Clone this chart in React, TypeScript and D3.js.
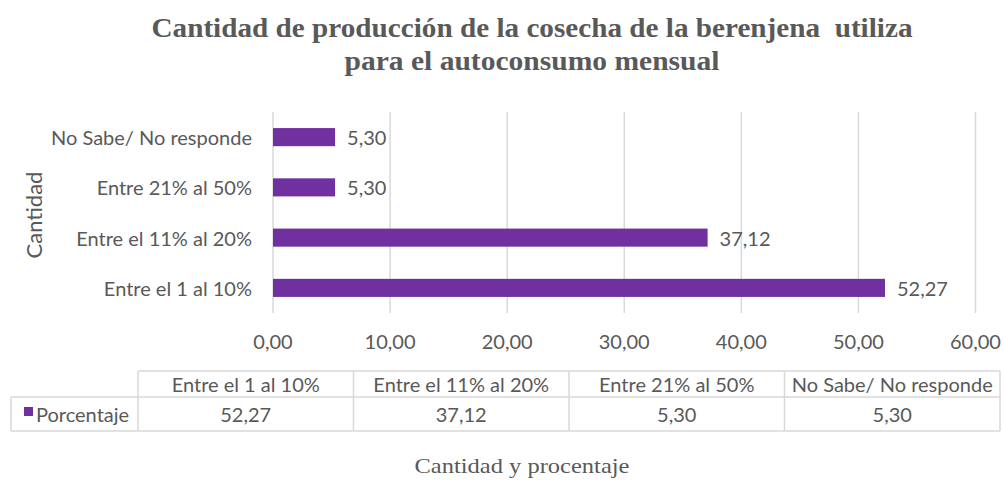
import React from "react";
import * as d3 from "d3";

const categories = ["Entre el 1 al 10%", "Entre el 11% al 20%", "Entre 21% al 50%", "No Sabe/ No responde"];
const values = [52.27, 37.12, 5.30, 5.30];
const xTicks = [0, 10, 20, 30, 40, 50, 60];
const seriesName = "Porcentaje";
const titleLines = ["Cantidad de producción de la cosecha de la berenjena  utiliza", "para el autoconsumo mensual"];
const xTitle = "Cantidad y procentaje";
const yTitle = "Cantidad";

const W = 1003, H = 480;
const fmt = (v: number) => v.toFixed(2).replace(".", ",");
const SANS = "Lato, 'Open Sans', sans-serif";
const SERIF = "'Liberation Serif', 'Times New Roman', serif";
const TXT = "#595959";
const BAR = "#7030a0";
const GRID = "#d9d9d9";
const FS = 20;

export default function App() {
  const x = d3.scaleLinear().domain([0, 60]).range([273, 975.5]);
  const yOrder = [...categories].reverse();
  const y = d3.scaleBand().domain(yOrder).range([112, 313]).paddingInner(0.64).paddingOuter(0.32);
  const top = 112, bottom = 313;

  const tableLeft = 138, tableRight = 1000, legendLeft = 11;
  const colX = d3.scaleBand().domain(categories).range([tableLeft, tableRight]);
  const rowTop = 371, rowMid = 397, rowBot = 431;

  return (
    <svg width={W} height={H} style={{ position: "absolute", left: 0, top: 0, background: "#fff" }}>
      <text x={532} y={37} textAnchor="middle" fontFamily={SERIF} fontWeight="bold" fontSize={28} fill={TXT}
        textLength={761} lengthAdjust="spacingAndGlyphs" style={{ whiteSpace: "pre" }}>{titleLines[0]}</text>
      <text x={532} y={70} textAnchor="middle" fontFamily={SERIF} fontWeight="bold" fontSize={28} fill={TXT}
        textLength={375} lengthAdjust="spacingAndGlyphs">{titleLines[1]}</text>
      {xTicks.map((t) => (
        <line key={"g" + t} x1={x(t)} x2={x(t)} y1={top} y2={bottom} stroke={GRID} strokeWidth={1.5} />
      ))}
      {categories.map((c, i) => (
        <g key={c}>
          <rect x={x(0)} y={y(c)!} width={x(values[i]) - x(0)} height={y.bandwidth()} fill={BAR} />
          <text x={x(values[i]) + 12} y={y(c)! + y.bandwidth() / 2} dominantBaseline="central" fontFamily={SANS} fontSize={FS} fill={TXT}>{fmt(values[i])}</text>
          <text x={252} y={y(c)! + y.bandwidth() / 2} dominantBaseline="central" textAnchor="end" fontFamily={SANS} fontSize={FS} fill={TXT}>{c}</text>
        </g>
      ))}
      {xTicks.map((t) => (
        <text key={"t" + t} x={x(t)} y={341} dominantBaseline="central" textAnchor="middle" fontFamily={SANS} fontSize={FS} fill={TXT}>{fmt(t)}</text>
      ))}
      <text transform={`translate(33,215) rotate(-90)`} textAnchor="middle" dominantBaseline="central" fontFamily={SANS} fontSize={22} fill={TXT}>{yTitle}</text>

      {/* data table */}
      <g stroke={GRID} strokeWidth={1.5} fill="none">
        <line x1={tableLeft} x2={tableRight} y1={rowTop} y2={rowTop} />
        <line x1={legendLeft} x2={tableRight} y1={rowMid} y2={rowMid} />
        <line x1={legendLeft} x2={tableRight} y1={rowBot} y2={rowBot} />
        <line x1={legendLeft} x2={legendLeft} y1={rowMid} y2={rowBot} />
        {categories.map((c) => (
          <line key={"c" + c} x1={colX(c)!} x2={colX(c)!} y1={rowTop} y2={rowBot} />
        ))}
        <line x1={tableRight} x2={tableRight} y1={rowTop} y2={rowBot} />
      </g>
      {categories.map((c, i) => (
        <g key={"tc" + c}>
          <text x={colX(c)! + colX.bandwidth() / 2} y={(rowTop + rowMid) / 2} textAnchor="middle" dominantBaseline="central" fontFamily={SANS} fontSize={FS} fill={TXT}>{c}</text>
          <text x={colX(c)! + colX.bandwidth() / 2} y={(rowMid + rowBot) / 2} textAnchor="middle" dominantBaseline="central" fontFamily={SANS} fontSize={FS} fill={TXT}>{fmt(values[i])}</text>
        </g>
      ))}
      <rect x={24} y={407} width={9} height={9} fill={BAR} />
      <text x={36} y={(rowMid + rowBot) / 2} dominantBaseline="central" fontFamily={SANS} fontSize={FS} fill={TXT}>{seriesName}</text>

      <text x={522} y={473} textAnchor="middle" fontFamily={SERIF} fontSize={22} fill={TXT}
        textLength={215} lengthAdjust="spacingAndGlyphs">{xTitle}</text>
    </svg>
  );
}
